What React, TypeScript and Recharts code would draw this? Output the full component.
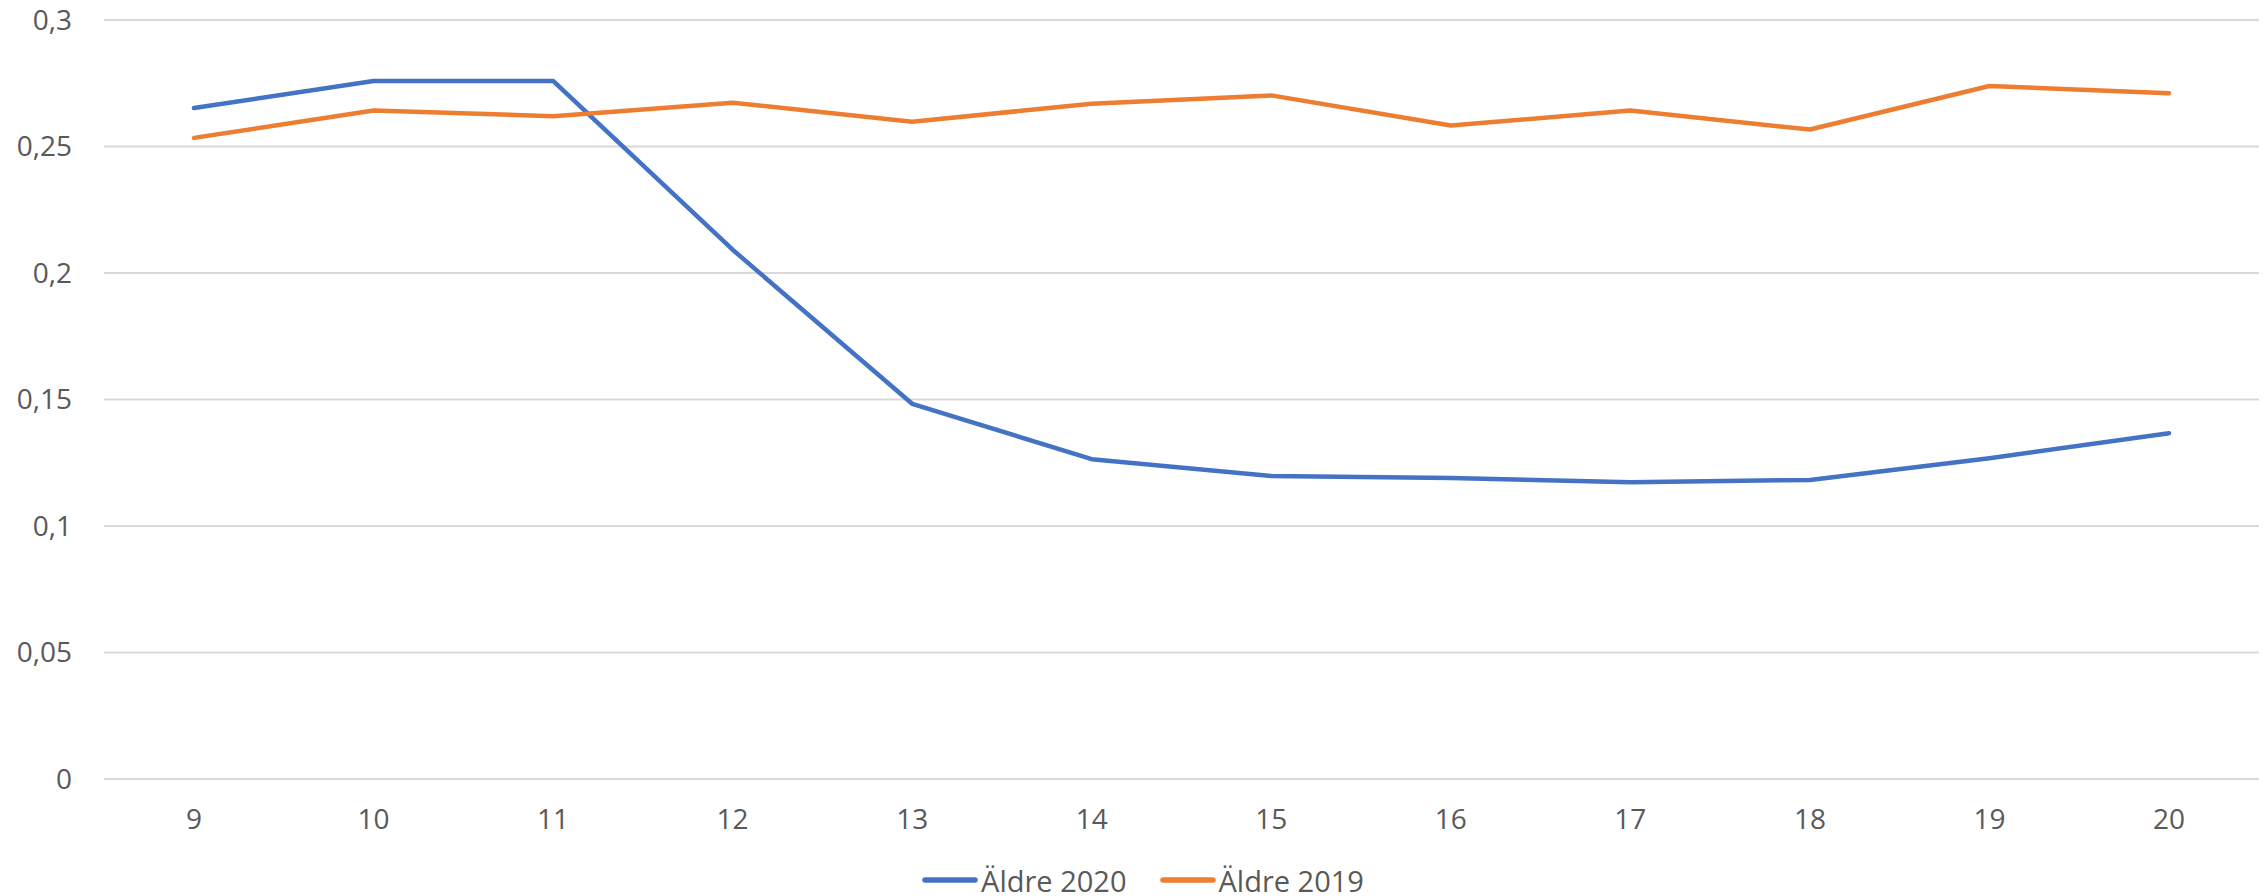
import { LineChart, Line, XAxis, YAxis, CartesianGrid, Legend } from "recharts"

const hours = ["9", "10", "11", "12", "13", "14", "15", "16", "17", "18", "19", "20"]
const aldre2020 = [0.2652, 0.2759, 0.2759, 0.2092, 0.1483, 0.1264, 0.1198, 0.119, 0.1173, 0.1182, 0.1268, 0.1367]
const aldre2019 = [0.2534, 0.2642, 0.262, 0.2673, 0.2598, 0.2669, 0.2702, 0.2583, 0.2642, 0.2567, 0.2739, 0.271]
const yTicks = [0, 0.05, 0.1, 0.15, 0.2, 0.25, 0.3]

const series = [
  { key: "a2020", name: "Äldre 2020", color: "#4472C4" },
  { key: "a2019", name: "Äldre 2019", color: "#ED7D31" },
]

const data = hours.map((h, i) => ({ hour: h, a2020: aldre2020[i], a2019: aldre2019[i] }))

const font = "'Open Sans', sans-serif"
const textColor = "#595959"

function LegendContent() {
  return (
    <div style={{ height: 32, display: "flex", justifyContent: "center", alignItems: "center", fontFamily: font, fontSize: 29, color: textColor, paddingLeft: 27 }}>
      {series.map((s, i) => (
        <div key={s.key} style={{ display: "flex", alignItems: "center", marginRight: i < series.length - 1 ? 33 : 0 }}>
          <svg width={56} height={10} style={{ marginRight: 3 }}>
            <line x1={3} y1={5} x2={53} y2={5} stroke={s.color} strokeWidth={5.5} strokeLinecap="round" />
          </svg>
          <span>{s.name}</span>
        </div>
      ))}
    </div>
  )
}

export default function App() {
  return (
    <div style={{ position: "absolute", left: 0, top: 0, background: "#fff" }}>
      <LineChart width={2265} height={896} data={data} margin={{ top: 20, right: 6, left: 0, bottom: 0 }}>
        <CartesianGrid vertical={false} stroke="#D9D9D9" strokeWidth={2} />
        <XAxis
          dataKey="hour"
          height={85}
          padding={{ left: 90, right: 90 }}
          tickLine={false}
          tickSize={0}
          tickMargin={30}
          axisLine={{ stroke: "#D9D9D9", strokeWidth: 2 }}
          tick={{ fontSize: 28, fill: textColor, fontFamily: font }}
          interval={0}
        />
        <YAxis
          width={104}
          domain={[0, 0.3]}
          ticks={yTicks}
          axisLine={false}
          tickLine={false}
          tickSize={0}
          tickMargin={32}
          tick={{ fontSize: 28, fill: textColor, fontFamily: font }}
          tickFormatter={(v) => String(v).replace(".", ",")}
        />
        <Legend verticalAlign="bottom" content={<LegendContent />} />
        {series.map((s) => (
          <Line
            key={s.key}
            dataKey={s.key}
            name={s.name}
            stroke={s.color}
            strokeWidth={4.5}
            strokeLinecap="round"
            strokeLinejoin="round"
            dot={false}
            isAnimationActive={false}
          />
        ))}
      </LineChart>
    </div>
  )
}
